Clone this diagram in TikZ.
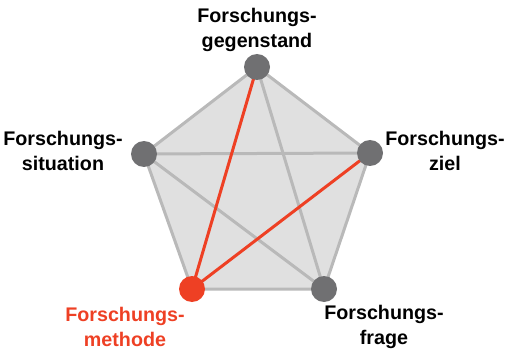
\documentclass[tikz,border=0pt]{standalone}
\usepackage{fontspec}
\setmainfont{Liberation Sans}
\usepackage{xcolor}
\usetikzlibrary{positioning}
\definecolor{edgegray}{RGB}{185,185,185}
\definecolor{facegray}{RGB}{224,224,224}
\definecolor{dotgray}{RGB}{112,112,114}
\definecolor{methred}{RGB}{238,64,36}
\tikzset{
  dot/.style={circle, fill=dotgray, minimum size=26pt, inner sep=0pt},
  edge/.style={draw=edgegray, line width=3pt},
  redge/.style={draw=methred, line width=3pt},
  lbl/.style={align=center, inner sep=0pt, font=\fontsize{19.7}{24.5}\selectfont\bfseries}
}
\begin{document}
\begin{tikzpicture}[x=1pt, y=-1pt]
  \useasboundingbox (0,0) rectangle (506,350);

  %% Corners of the pentagon
  \coordinate (gegen) at (257,67);
  \coordinate (situ)  at (144,154);
  \coordinate (ziel)  at (370,153);
  \coordinate (meth)  at (192,289);
  \coordinate (frage) at (324,289);

  %% Face and outline
  \fill[facegray] (gegen) -- (ziel) -- (frage) -- (meth) -- (situ) -- cycle;
  \draw[edge] (gegen) -- (ziel) -- (frage) -- (meth) -- (situ) -- cycle;

  %% Diagonals
  \draw[edge] (situ) -- (ziel);
  \draw[edge] (gegen) -- (frage);
  \draw[edge] (situ) -- (frage);
  \draw[redge] (meth) -- (gegen);
  \draw[redge] (meth) -- (ziel);

  %% Dots
  \node[dot] (ngegen) at (gegen) {};
  \node[dot] (nsitu)  at (situ)  {};
  \node[dot] (nziel)  at (ziel)  {};
  \node[dot, fill=methred] (nmeth) at (meth) {};
  \node[dot] (nfrage) at (frage) {};

  %% Labels
  \node[lbl] (tgegen) at (257,30) {Forschungs-\\gegenstand};
  \node[lbl] (tsitu)  at (63,151) {Forschungs-\\situation};
  \node[lbl] (tziel)  at (445,151) {Forschungs-\\ziel};
  \node[lbl, text=methred] (tmeth) at (125,327) {Forschungs-\\methode};
  \node[lbl] (tfrage) at (384,327) {Forschungs-\\frage};
\end{tikzpicture}
\end{document}
